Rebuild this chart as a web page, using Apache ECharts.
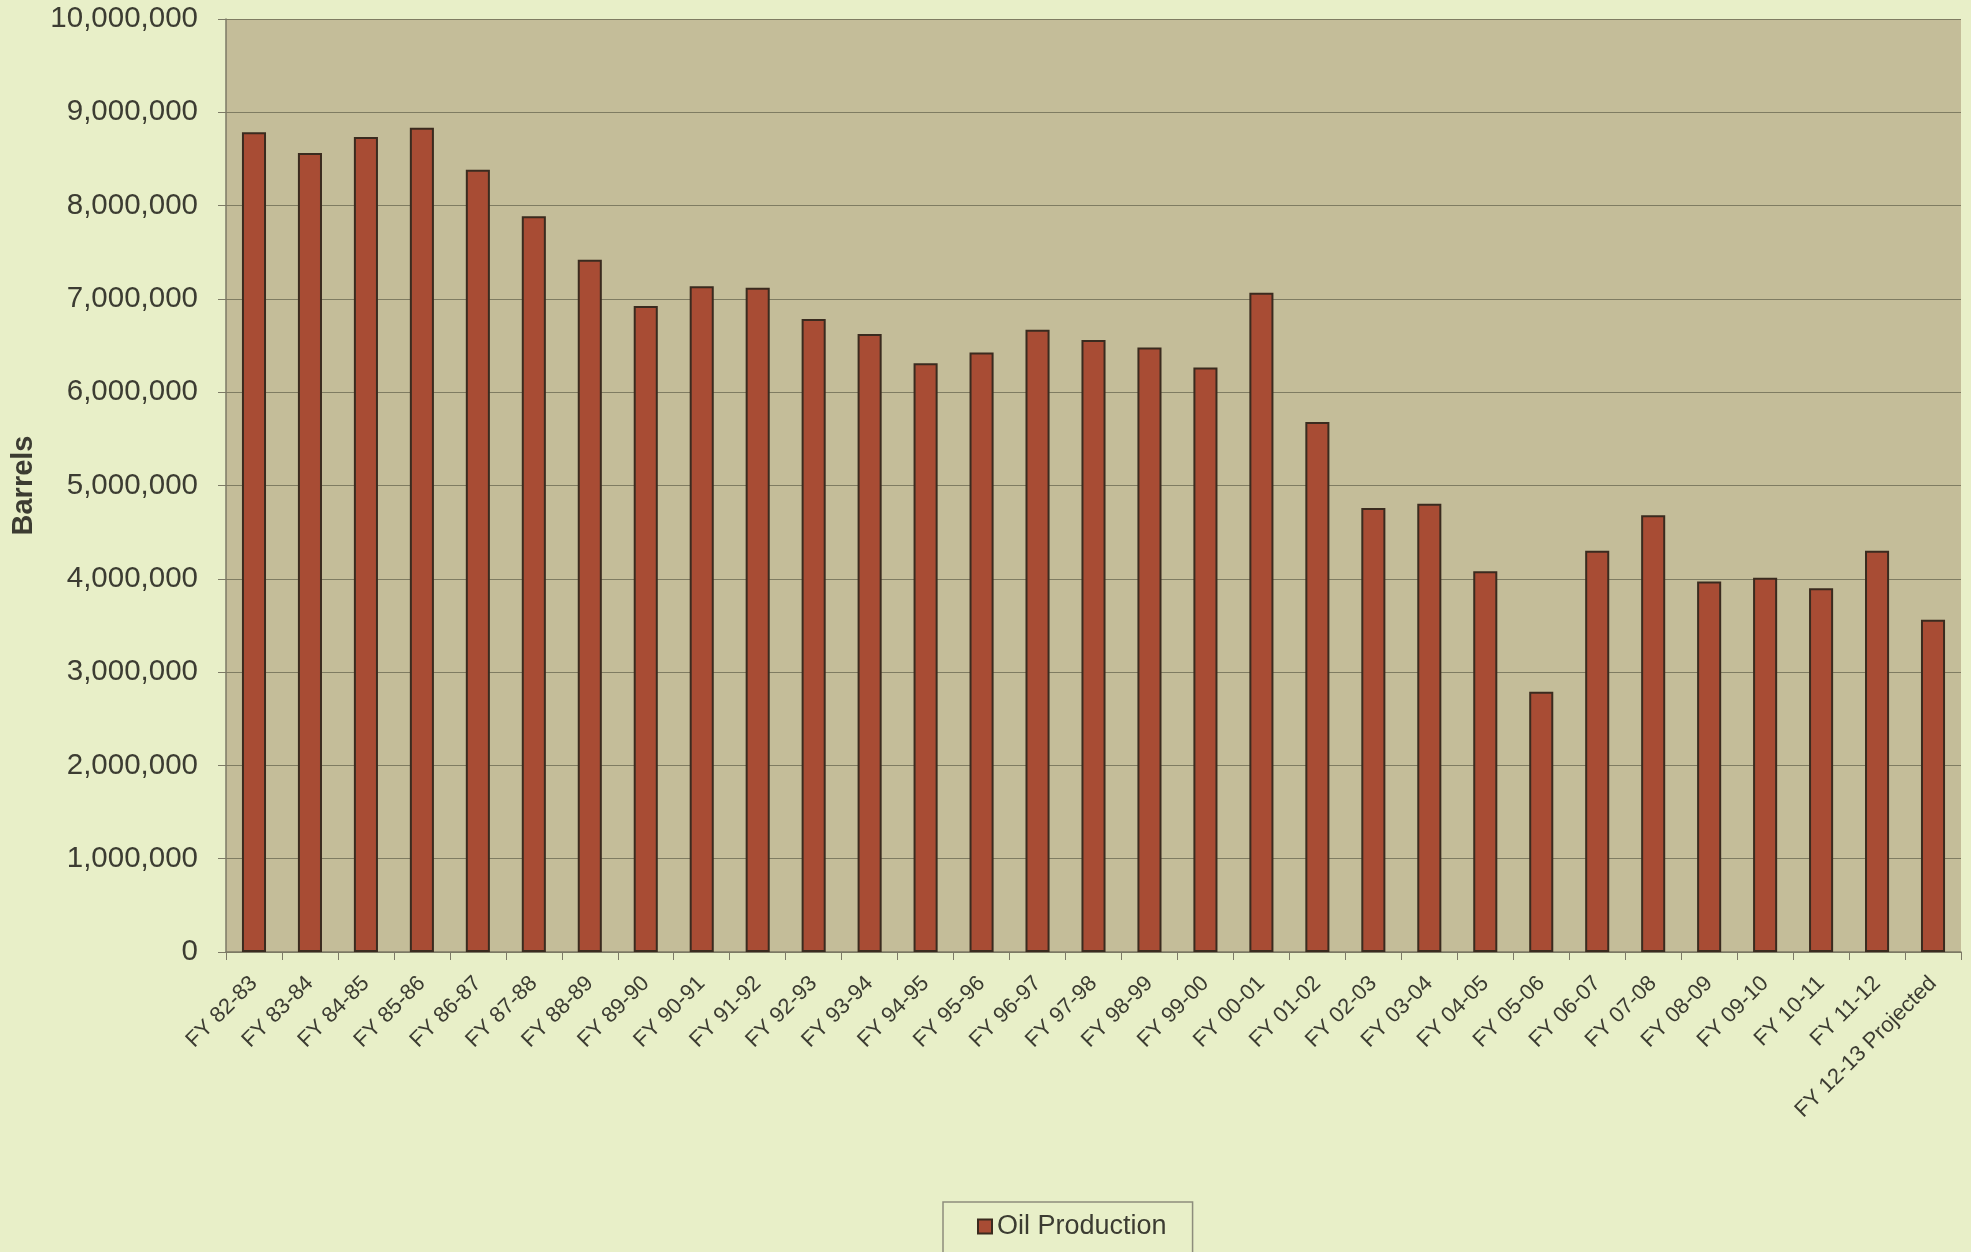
<!DOCTYPE html>
<html>
<head>
<meta charset="utf-8">
<script src="https://cdn.jsdelivr.net/npm/echarts@6/dist/echarts.min.js"></script>
<style>
html,body{margin:0;padding:0;background:#e8efc8;}
#chart{width:1971px;height:1252px;}
</style>
</head>
<body>
<div id="chart"></div>
<script>
const categories = ["FY 82-83","FY 83-84","FY 84-85","FY 85-86","FY 86-87","FY 87-88","FY 88-89","FY 89-90","FY 90-91","FY 91-92","FY 92-93","FY 93-94","FY 94-95","FY 95-96","FY 96-97","FY 97-98","FY 98-99","FY 99-00","FY 00-01","FY 01-02","FY 02-03","FY 03-04","FY 04-05","FY 05-06","FY 06-07","FY 07-08","FY 08-09","FY 09-10","FY 10-11","FY 11-12","FY 12-13 Projected"];
const oilProduction = [8785000,8565000,8735000,8835000,8385000,7885000,7420000,6925000,7135000,7120000,6785000,6625000,6310000,6425000,6670000,6560000,6480000,6265000,7065000,5680000,4760000,4805000,4080000,2790000,4300000,4680000,3970000,4010000,3900000,4300000,3560000];
const yTicks = {min:0, max:10000000, interval:1000000};
const seriesName = "Oil Production";
const yAxisName = "Barrels";

const chart = echarts.init(document.getElementById('chart'));
const fmt = v => String(v).replace(/\B(?=(\d{3})+(?!\d))/g, ',');
chart.setOption({
  backgroundColor: '#e8efc8',
  animation: false,
  textStyle: {fontFamily: 'Liberation Sans, Arial, sans-serif'},
  grid: {left: 226, right: 10, top: 19, bottom: 300, show: true, backgroundColor: '#c4bd99', borderWidth: 0,
         containLabel: false, outerBoundsMode: 'none'},
  legend: {
    data: [seriesName],
    left: 943, top: 1202,
    padding: [11, 26, 30, 34],
    borderColor: '#8d8d7c', borderWidth: 1.5,
    icon: 'rect', itemWidth: 14, itemHeight: 14, itemGap: 6,
    textStyle: {fontSize: 27, color: '#3c3c32', fontFamily: 'Liberation Sans, Arial, sans-serif'}
  },
  xAxis: {
    type: 'category', data: categories,
    axisLine: {lineStyle: {color: '#7c7a66', width: 1.5}},
    axisTick: {show: true, length: 8, lineStyle: {color: '#7c7a66'}},
    axisLabel: {rotate: 45, fontSize: 22, color: '#3c3c32', margin: 28, interval: 0}
  },
  yAxis: {
    type: 'value', min: yTicks.min, max: yTicks.max, interval: yTicks.interval,
    name: yAxisName, nameLocation: 'middle', nameGap: 188,
    nameTextStyle: {fontSize: 29, fontWeight: 'bold', color: '#3c3c32'},
    axisLine: {show: true, lineStyle: {color: '#7c7a66', width: 1.5}},
    axisTick: {show: true, length: 8, lineStyle: {color: '#7c7a66'}},
    axisLabel: {fontSize: 29.5, color: '#3c3c32', margin: 28, formatter: fmt},
    splitLine: {lineStyle: {color: '#7f7c62', width: 1.2}}
  },
  series: [{
    name: seriesName, type: 'bar', data: oilProduction, barWidth: '43%',
    itemStyle: {color: '#a84c34', borderColor: '#3a2b1f', borderWidth: 2}
  }]
});
</script>
</body>
</html>
